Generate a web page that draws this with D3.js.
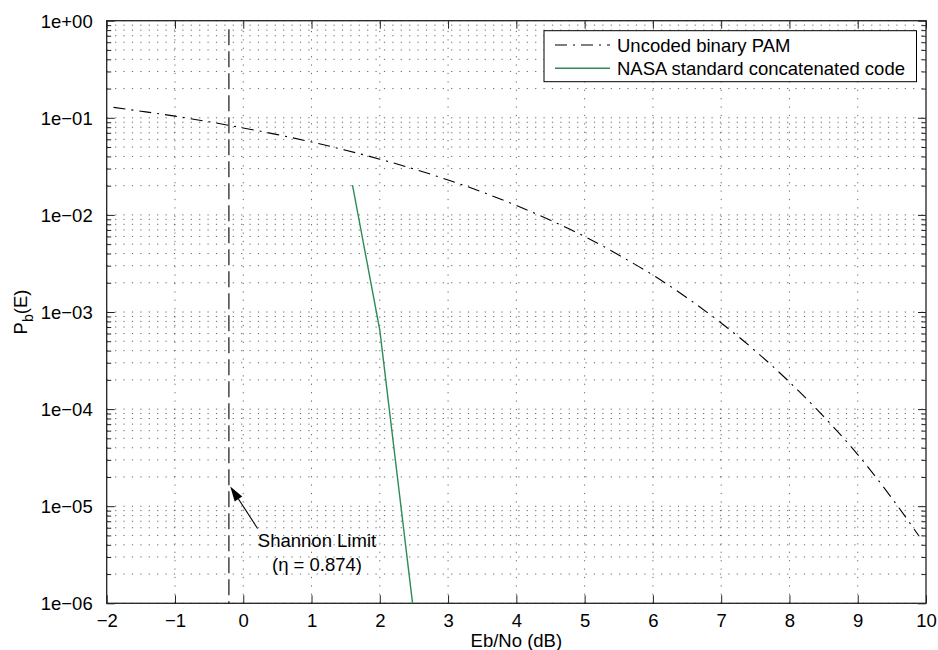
<!DOCTYPE html>
<html>
<head>
<meta charset="utf-8">
<script src="https://cdn.jsdelivr.net/npm/d3@7"></script>
<style>
  html, body { margin: 0; padding: 0; background: #fff; }
  svg { display: block; font-family: "Liberation Sans", Arial, Helvetica, sans-serif; }
</style>
</head>
<body>
<svg id="chart" width="938" height="650"></svg>
<script>
// ---- data ----
const uncodedX = [-1.9, -1.5, -1, -0.5, 0, 0.5, 1, 1.5, 2, 2.5, 3, 3.5, 4, 4.5, 5, 5.5, 6, 6.5, 7, 7.5, 8, 8.5, 9, 9.5, 9.9];
const uncodedY = [0.128, 0.117, 0.104, 0.0909, 0.0786, 0.0671, 0.0563, 0.0464, 0.0375, 0.0297, 0.0229, 0.0172, 0.0125, 0.0088, 0.0060, 0.00386, 0.0024, 0.0014, 0.00077, 0.000398, 0.00019, 0.000084, 0.000034, 0.0000121, 0.0000049];
const nasaX = [1.6, 2.0, 2.48];
const nasaY = [0.0203, 0.00065, 0.000001];
const shannonX = -0.21;
const xTicks = [-2, -1, 0, 1, 2, 3, 4, 5, 6, 7, 8, 9, 10];
const yTickExps = [0, -1, -2, -3, -4, -5, -6];
const yTickLabels = ["1e+00", "1e\u221201", "1e\u221202", "1e\u221203", "1e\u221204", "1e\u221205", "1e\u221206"];
const legendLabels = ["Uncoded binary PAM", "NASA standard concatenated code"];
const annotationLines = ["Shannon Limit", "(\u03b7 = 0.874)"];
const arrowTip = [-0.19, 1.6e-5];
const arrowTail = [0.21, 5.9e-6];

// ---- layout ----
const L = 106.7, R = 926, T = 20.7, B = 603.3;
const FS = 18.5;
const svg = d3.select("#chart");
const x = d3.scaleLinear().domain([-2, 10]).range([L, R]);
const y = d3.scaleLog().domain([1e-6, 1]).range([B, T]);

// minor log ticks
const minorVals = [];
for (let e = -6; e < 0; e++) for (let k = 2; k <= 9; k++) minorVals.push(k * Math.pow(10, e));
const majorVals = yTickExps.map(e => Math.pow(10, e));

// ---- grid ----
const grid = svg.append("g").attr("stroke", "#333").attr("stroke-width", 1).attr("stroke-dasharray", "1.2,7.2").attr("fill", "none");
grid.selectAll("line.h").data(majorVals.concat(minorVals)).enter().append("line")
  .attr("x1", L).attr("x2", R).attr("y1", d => y(d)).attr("y2", d => y(d)).attr("opacity", 0.75);
grid.selectAll("line.v").data(xTicks.slice(1, -1)).enter().append("line")
  .attr("y1", B).attr("y2", T).attr("x1", d => x(d)).attr("x2", d => x(d)).attr("opacity", 0.75);

// ---- axes (MATLAB style: ticks inside, box) ----
const axColor = "#222";
const tickMajor = 8, tickMinor = 4.5;
const gx = svg.append("g").attr("transform", `translate(0,${B})`)
  .call(d3.axisBottom(x).tickValues(xTicks).tickSizeInner(-tickMajor).tickSizeOuter(0).tickPadding(10.5)
    .tickFormat(d => d < 0 ? "\u2212" + Math.abs(d) : String(d)));
const gxt = svg.append("g").attr("transform", `translate(0,${T})`)
  .call(d3.axisTop(x).tickValues(xTicks).tickSizeInner(-tickMajor).tickSizeOuter(0).tickFormat(""));
const gy = svg.append("g").attr("transform", `translate(${L},0)`)
  .call(d3.axisLeft(y).tickValues(majorVals).tickSizeInner(-tickMajor).tickSizeOuter(0).tickPadding(14)
    .tickFormat((d, i) => yTickLabels[i]));
const gym = svg.append("g").attr("transform", `translate(${L},0)`)
  .call(d3.axisLeft(y).tickValues(minorVals).tickSizeInner(-tickMinor).tickSizeOuter(0).tickFormat(""));
const gyr = svg.append("g").attr("transform", `translate(${R},0)`)
  .call(d3.axisRight(y).tickValues(majorVals).tickSizeInner(-tickMajor).tickSizeOuter(0).tickFormat(""));
const gyrm = svg.append("g").attr("transform", `translate(${R},0)`)
  .call(d3.axisRight(y).tickValues(minorVals).tickSizeInner(-tickMinor).tickSizeOuter(0).tickFormat(""));
[gx, gxt, gy, gym, gyr, gyrm].forEach(g => {
  g.select(".domain").remove();
  g.selectAll(".tick line").attr("stroke", axColor).attr("stroke-width", 1);
  g.selectAll(".tick text").attr("fill", "#000").style("font-size", FS + "px")
    .style("font-family", "'Liberation Sans', Arial, Helvetica, sans-serif");
});
gy.selectAll(".tick text").attr("dy", "0.36em");
svg.append("rect").attr("x", L).attr("y", T).attr("width", R - L).attr("height", B - T)
  .attr("fill", "none").attr("stroke", axColor).attr("stroke-width", 1.3);

// ---- series ----
const uncoded = uncodedX.map((v, i) => [v, uncodedY[i]]);
const nasa = nasaX.map((v, i) => [v, nasaY[i]]);
const line = d3.line().x(d => x(d[0])).y(d => y(d[1]));
svg.append("path").datum(uncoded)
  .attr("d", line.curve(d3.curveMonotoneX))
  .attr("fill", "none").attr("stroke", "#000").attr("stroke-width", 1.1)
  .attr("stroke-dasharray", "12,6,2,6");
svg.append("path").datum(nasa)
  .attr("d", d3.line().x(d => x(d[0])).y(d => y(d[1])))
  .attr("fill", "none").attr("stroke", "#2e8b57").attr("stroke-width", 1.4);

// Shannon limit vertical dashed line
svg.append("line").attr("x1", x(shannonX)).attr("x2", x(shannonX))
  .attr("y1", T + 8.5).attr("y2", B)
  .attr("stroke", "#000").attr("stroke-width", 1.1).attr("stroke-dasharray", "16,6");

// ---- annotation arrow ----
const tip = [x(arrowTip[0]), y(arrowTip[1])];
const tail = [x(arrowTail[0]), y(arrowTail[1])];
const ang = Math.atan2(tip[1] - tail[1], tip[0] - tail[0]);
const hl = 15, hw = 4.5;
const bx = tip[0] - hl * Math.cos(ang), by = tip[1] - hl * Math.sin(ang);
svg.append("line").attr("x1", tail[0]).attr("y1", tail[1]).attr("x2", bx).attr("y2", by)
  .attr("stroke", "#000").attr("stroke-width", 1.1);
svg.append("path")
  .attr("d", `M${tip[0]},${tip[1]} L${bx + hw * Math.sin(ang)},${by - hw * Math.cos(ang)} L${bx - hw * Math.sin(ang)},${by + hw * Math.cos(ang)} Z`)
  .attr("fill", "#000");
const ann = svg.append("text").attr("text-anchor", "middle").style("font-size", FS + "px").attr("fill", "#000");
ann.selectAll("tspan").data(annotationLines).enter().append("tspan")
  .attr("x", 317).attr("y", (d, i) => 546.5 + i * 24.5).text(d => d);

// ---- legend ----
const lg = svg.append("g");
lg.append("rect").attr("x", 544).attr("y", 30.7).attr("width", 372.5).attr("height", 51)
  .attr("fill", "#fff").attr("stroke", "#000").attr("stroke-width", 1);
const legStyles = [{ stroke: "#000", dash: "12,6,2,6", w: 1.1 }, { stroke: "#2e8b57", dash: null, w: 1.4 }];
legendLabels.forEach((lab, i) => {
  const cy = 45 + i * 23.3;
  lg.append("line").attr("x1", 555).attr("x2", 610).attr("y1", cy).attr("y2", cy)
    .attr("stroke", legStyles[i].stroke).attr("stroke-width", legStyles[i].w)
    .attr("stroke-dasharray", legStyles[i].dash);
  lg.append("text").attr("x", 617).attr("y", cy).attr("dy", "0.36em")
    .style("font-size", FS + "px").attr("fill", "#000").text(lab);
});

// ---- axis labels ----
svg.append("text").attr("x", (L + R) / 2).attr("y", 646.5).attr("text-anchor", "middle")
  .style("font-size", FS + "px").attr("fill", "#000").text("Eb/No (dB)");
const yl = svg.append("text").attr("transform", `translate(26.5,${(T + B) / 2}) rotate(-90)`)
  .attr("text-anchor", "middle").style("font-size", FS + "px").attr("fill", "#000");
yl.append("tspan").text("P");
yl.append("tspan").attr("dy", 6).style("font-size", "14px").text("b");
yl.append("tspan").attr("dy", -6).text("(E)");
</script>
</body>
</html>
